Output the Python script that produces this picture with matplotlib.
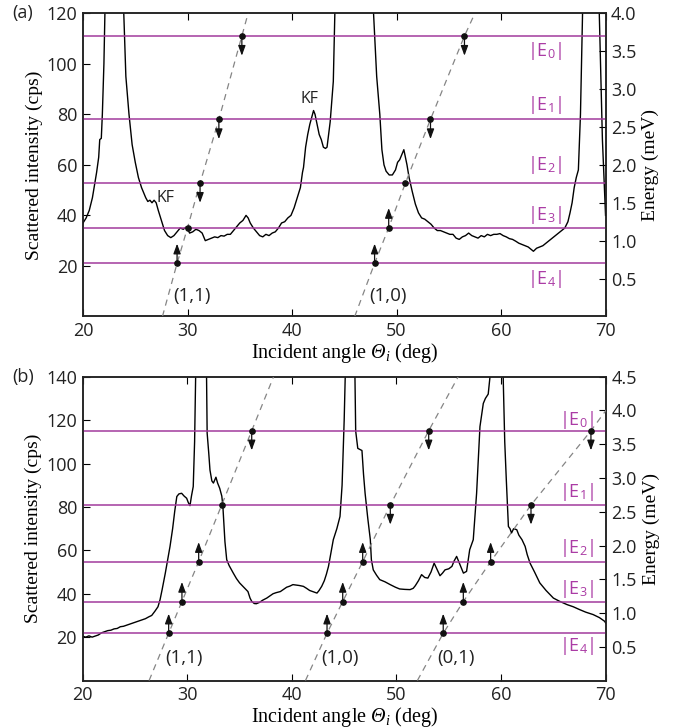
import matplotlib
matplotlib.use("Agg")
import matplotlib.pyplot as plt

plt.rcParams['font.family'] = ['Open Sans', 'DejaVu Sans']
plt.rcParams['mathtext.fontset'] = 'custom'
plt.rcParams['mathtext.rm'] = 'Open Sans'
plt.rcParams['mathtext.it'] = 'Liberation Serif:italic'
plt.rcParams['mathtext.sf'] = 'Liberation Serif:italic'
plt.rcParams['mathtext.bf'] = 'Open Sans:bold'

# ---------------- data: panel (a) ----------------
a_angle = [20.0, 20.3, 20.6, 20.9, 21.1, 21.3, 21.5, 21.6, 21.75, 21.85, 22.0, 22.1, 22.3, 23.0,
           23.6, 23.9, 24.1, 24.4, 24.7, 25.0, 25.3, 25.6, 25.8, 26.0, 26.2, 26.4, 26.6, 26.8,
           27.0, 27.2, 27.5, 27.8, 28.1, 28.4, 28.7, 29.0, 29.3, 29.6, 29.9, 30.2, 30.5, 30.8,
           31.1, 31.4, 31.7, 32.0, 32.3, 32.6, 32.9, 33.2, 33.5, 33.8, 34.1, 34.4, 34.7, 35.0,
           35.3, 35.6, 35.8, 36.0, 36.3, 36.6, 36.9, 37.2, 37.5, 37.8, 38.1, 38.4, 38.7, 39.0,
           39.3, 39.6, 39.9, 40.2, 40.5, 40.8, 41.0, 41.1, 41.3, 41.5, 41.7, 41.9, 42.06, 42.2,
           42.4, 42.6, 42.8, 43.0, 43.2, 43.35, 43.5, 43.65, 43.8, 43.95, 44.1, 44.5, 45.5, 46.5,
           47.5, 47.8, 48.1, 48.4, 48.6, 48.8, 49.0, 49.3, 49.6, 49.9, 50.1, 50.3, 50.5, 50.7,
           50.85, 51.0, 51.2, 51.5, 51.8, 52.1, 52.4, 52.7, 53.0, 53.3, 53.6, 53.9, 54.2, 54.5,
           54.8, 55.1, 55.4, 55.7, 56.0, 56.3, 56.6, 56.9, 57.2, 57.5, 57.8, 58.1, 58.4, 58.7,
           59.0, 59.3, 59.6, 59.9, 60.2, 60.5, 60.8, 61.1, 61.4, 61.7, 62.0, 62.3, 62.6, 62.9,
           63.1, 63.4, 63.7, 64.0, 64.3, 64.6, 64.9, 65.2, 65.5, 65.8, 66.1, 66.4, 66.6, 66.8,
           67.0, 67.2, 67.4, 67.6, 67.8, 68.2, 69.0, 69.4, 69.7, 70.0]
a_cps = [37, 39, 42, 47, 52, 57, 63, 70, 70.5, 80, 100, 120, 170, 250,
         200, 120, 95, 80, 68, 61, 55, 51, 49, 47, 45.5, 46, 45, 46,
         45, 42, 38, 34, 32, 31.2, 32, 33.5, 35, 34.5, 35.5, 33, 33.5, 34.5,
         34, 33, 30, 30.5, 31, 31.5, 31.2, 32, 31.8, 32.5, 32.5, 34, 35.5, 37,
         38, 40, 39, 37, 35, 33.5, 32, 31.5, 32.5, 32, 33, 33.5, 35, 37,
         37.5, 39, 40, 43, 47, 51, 57, 59, 67, 72, 76, 79, 81.5, 80,
         76, 72, 70, 67, 66.5, 67, 72, 77, 85, 93, 120, 200, 300, 300,
         200, 120, 95, 80, 66, 60, 57.5, 56, 56, 58, 61, 62, 64, 66,
         63, 60, 55, 49.5, 44.5, 41, 39, 38.5, 37.5, 36.5, 35, 34, 34, 33.5,
         33, 32.5, 32.5, 31, 30.5, 31.5, 32, 33, 32, 31.5, 31, 32, 31.5, 32.5,
         32, 32.5, 32.5, 32.8, 32, 31.5, 30.8, 30.5, 29.8, 29, 28.5, 28, 27.5, 26.5,
         25.8, 27, 27.5, 28, 29, 30, 31, 32, 33, 34, 35, 37.5, 41, 45,
         51, 55, 58, 80, 120, 200, 200, 120, 70, 40]

# energy levels (meV) and their labels
levels_meV = [3.70, 2.60, 1.76, 1.17, 0.70]
level_names = [r'|E$_0$|', r'|E$_1$|', r'|E$_2$|', r'|E$_3$|', r'|E$_4$|']
a_label_E = [3.50, 2.79, 2.00, 1.34, 0.49]
b_label_E = [3.86, 2.80, 1.96, 1.36, 0.51]

# diffraction-mode resonance curves, panel (a): angle at E=0, at each level (E4..E0), at top
a_modes = ['(1,1)', '(1,0)']
a_mode_angles = [[27.6, 29.0, 30.0, 31.2, 33.0, 35.2, 35.8],
                 [46.0, 47.9, 49.25, 50.85, 53.25, 56.5, 57.5]]
a_mode_E = [0.0, 0.70, 1.17, 1.76, 2.60, 3.70, 4.0]
# arrow direction for dots at E4, E3, E2, E1, E0
a_arrows = [[1, 0, -1, -1, -1],
            [1, 1, 0, -1, -1]]
a_mode_label_pos = [(30.4, 0.27), (49.2, 0.27)]
a_kf_pos = [(27.9, 47), (41.7, 86)]

# ---------------- data: panel (b) ----------------
b_angle = [20.0, 20.3, 20.6, 20.9, 21.2, 21.5, 21.8, 22.1, 22.4, 22.7, 23.0, 23.3, 23.6, 23.9,
           24.2, 24.5, 24.8, 25.1, 25.4, 25.7, 26.0, 26.3, 26.6, 26.9, 27.2, 27.4, 27.6, 27.9,
           28.1, 28.35, 28.6, 28.8, 29.0, 29.2, 29.46, 29.7, 29.94, 30.1, 30.26, 30.4, 30.57,
           30.7, 30.8, 31.0, 31.6, 31.85, 31.9, 32.05, 32.17, 32.35, 32.5, 32.74, 32.9, 33.1,
           33.3, 33.4, 33.6, 33.77, 34.0, 34.4, 34.7, 35.0, 35.4, 35.8, 36.0, 36.16, 36.4, 36.6,
           36.9, 37.2, 37.6, 37.9, 38.2, 38.5, 38.9, 39.2, 39.5, 39.8, 40.1, 40.4, 40.7, 41.1,
           41.4, 41.7, 42.0, 42.4, 42.6, 42.85, 43.1, 43.3, 43.5, 43.7, 43.96, 44.3, 44.6, 44.8,
           45.0, 45.1, 45.3, 45.9, 46.03, 46.1, 46.3, 46.5, 46.7, 46.85, 47.0, 47.25, 47.5, 47.6,
           47.78, 48.1, 48.4, 48.9, 49.4, 49.9, 50.3, 50.8, 51.3, 51.6, 51.8, 52.1, 52.4, 52.7,
           53.0, 53.3, 53.6, 53.9, 54.16, 54.4, 54.64, 55.0, 55.3, 55.5, 55.75, 56.07, 56.4, 56.7,
           57.0, 57.34, 57.66, 57.98, 58.3, 58.5, 58.77, 58.94, 59.2, 60.0, 60.2, 60.35, 60.5,
           60.7, 60.85, 61.0, 61.2, 61.5, 61.7, 62.0, 62.3, 62.5, 62.77, 63.2, 63.7, 64.3, 65.0,
           65.6, 66.3, 66.9, 67.5, 68.1, 68.8, 69.4, 69.9, 70.0]
b_cps = [20.4, 20, 20.6, 20, 20.5, 21, 22, 22.5, 23, 23.2, 23.8, 24, 24.8, 25,
         25.5, 26, 26.5, 27, 27.5, 28, 28.5, 29.3, 30, 31.9, 34, 37.3, 42, 49.5,
         55, 61.8, 70, 78, 84.8, 86, 86.3, 85, 84, 82, 80.6, 85, 89.4,
         110, 140, 250, 250, 140, 114, 105, 97, 92, 91, 93.7, 91, 88.6,
         85, 80.6, 64, 55.7, 53, 49.5, 47, 45, 43, 41, 38, 36.5, 35.5, 35.4,
         36, 37, 38, 39, 40, 40.5, 41, 42, 43, 43.5, 44.2, 44, 43.8, 43.4,
         42.5, 41.5, 41, 40.3, 41.5, 43.4, 46, 49, 52.6, 58, 64.9, 70, 75.6, 90,
         120, 140, 250, 250, 140, 115, 107, 106.5, 106, 95, 86.3, 75, 64.9, 55.7,
         51, 48.5, 46.5, 45.5, 44.2, 43, 42.2, 42, 41.9, 42.5, 43.7, 46, 48.8, 47.5,
         47.2, 50, 54.1, 51, 48.3, 49.5, 51, 51.5, 52.6, 55, 57.2, 53.4, 49.5, 50.3,
         60.3, 64.9, 86.3, 117, 127.7, 130, 132, 140, 250, 250, 140, 110, 92.5,
         71, 70, 68, 70, 69.5, 67, 64.9, 61.8, 58, 54.1, 50, 45, 41.5, 38,
         36.5, 35, 34, 32.7, 31.5, 30.4, 29, 27.3, 26.5]

b_modes = ['(1,1)', '(1,0)', '(0,1)']
b_mode_angles = [[26.35, 28.22, 29.49, 31.09, 33.29, 36.16, 38.25],
                 [41.3, 43.36, 44.86, 46.77, 49.41, 53.08, 55.9],
                 [52.0, 54.47, 56.39, 59.0, 62.86, 68.59, 72.4]]
b_mode_E = [0.0, 0.70, 1.17, 1.76, 2.60, 3.70, 4.5]
b_arrows = [[1, 1, 1, 0, -1],
            [1, 1, 1, -1, -1],
            [1, 1, 1, -1, -1]]
b_mode_label_pos = [(29.7, 0.34), (44.6, 0.34), (55.7, 0.34)]

x_ticks = [20, 30, 40, 50, 60, 70]

LINE_COL = '#a23a9c'
TEXT_COL = '#ab3ca5'
DASH_COL = '#858585'
SERIF = 'Liberation Serif'
INK = '#222222'


def panel(ax, angle, cps, ymax, yticks, emax, eticks, label_E, modes, mode_angles,
          mode_E, arrows, mode_label_pos, arrow_len, tag, label_x):
    ax.plot(angle, cps, color='k', lw=1.0, zorder=3)
    ax.set_xlim(20, 70)
    ax.set_ylim(0, ymax)
    ax.set_xticks(x_ticks)
    ax.set_yticks(yticks)
    ax.tick_params(direction='in', top=True, length=5, width=0.8, labelsize=13,
                   pad=4, labelcolor=INK)
    ax.set_ylabel('Scattered intensity (cps)', family=SERIF, fontsize=14, labelpad=3)
    ax.set_xlabel(r'Incident angle $\mathsf{\Theta}_i$ (deg)', family=SERIF, fontsize=14.5,
                  labelpad=1)
    for s in ax.spines.values():
        s.set_linewidth(1.1)
        s.set_color(INK)

    ax2 = ax.twinx()
    ax2.set_ylim(0, emax)
    ax2.set_yticks(eticks)
    ax2.set_yticklabels([f'{t:.1f}' for t in eticks])
    ax2.tick_params(direction='in', length=5, width=0.8, labelsize=13, pad=4,
                    labelcolor=INK)
    ax2.set_ylabel('Energy (meV)', family=SERIF, fontsize=14, labelpad=4)
    for s in ax2.spines.values():
        s.set_linewidth(1.1)
        s.set_color(INK)

    for E, name, le in zip(levels_meV, level_names, label_E):
        ax2.axhline(E, color=LINE_COL, lw=1.1, zorder=2)
        ax2.text(label_x, le, name, color=TEXT_COL, fontsize=13, ha='center', va='center')

    for m, ang, arr, lp in zip(modes, mode_angles, arrows, mode_label_pos):
        ax2.plot(ang, mode_E, color=DASH_COL, lw=0.9, ls=(0, (5, 4)), zorder=4)
        dots_a = ang[1:6]
        dots_e = mode_E[1:6]
        ax2.plot(dots_a, dots_e, 'o', color='#111111', ms=3.8, zorder=6)
        for xa, ye, d in zip(dots_a, dots_e, arr):
            if d != 0:
                ax2.annotate('', xy=(xa, ye + d * arrow_len), xytext=(xa, ye),
                             arrowprops=dict(arrowstyle='-|>,head_length=0.6,head_width=0.22',
                                             color='#111111', lw=0.9,
                                             mutation_scale=10, shrinkA=0, shrinkB=0),
                             zorder=6)
        ax2.text(lp[0], lp[1], m, fontsize=13.5, ha='center', va='center', color=INK)

    ax.text(-0.135, 1.0, tag, transform=ax.transAxes, fontsize=13, ha='left', va='center',
            color=INK)
    return ax2


fig = plt.figure(figsize=(6.81, 7.28), dpi=100)
axA = fig.add_axes([0.1219, 0.5653, 0.7673, 0.4165])
axB = fig.add_axes([0.1214, 0.0652, 0.7680, 0.4173])

panel(axA, a_angle, a_cps, 120, [20, 40, 60, 80, 100, 120], 4.0,
      [0.5, 1.0, 1.5, 2.0, 2.5, 3.0, 3.5, 4.0], a_label_E, a_modes, a_mode_angles, a_mode_E,
      a_arrows, a_mode_label_pos, 0.26, '(a)', 64.2)
for (x, y) in a_kf_pos:
    axA.text(x, y, 'KF', fontsize=11.5, ha='center', va='center', color=INK, zorder=5)

panel(axB, b_angle, b_cps, 140, [20, 40, 60, 80, 100, 120, 140], 4.5,
      [0.5, 1.0, 1.5, 2.0, 2.5, 3.0, 3.5, 4.0, 4.5], b_label_E, b_modes, b_mode_angles,
      b_mode_E, b_arrows, b_mode_label_pos, 0.29, '(b)', 67.2)

fig.savefig('out.png', dpi=100)
